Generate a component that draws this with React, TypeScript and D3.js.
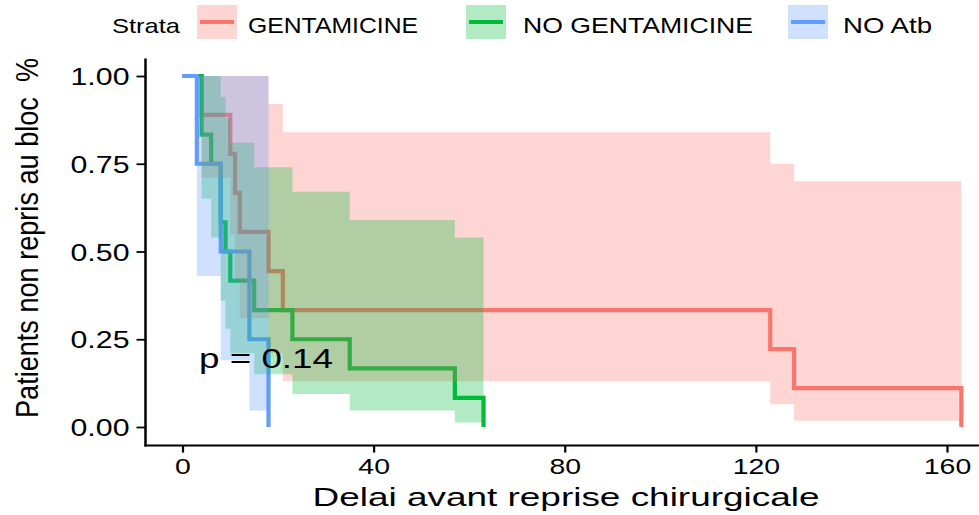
import * as d3 from "d3";
import React, { useRef, useEffect } from "react";

// survival curves (time of each drop, survival after it)
const gentaTimes = [4, 10, 11, 12, 18, 21, 123, 128, 163];
const gentaSurv = [0.889, 0.778, 0.667, 0.556, 0.444, 0.333, 0.222, 0.111, 0];
const gentaLower = [0.71, 0.55, 0.42, 0.31, 0.21, 0.13, 0.065, 0.018];
const gentaUpper = [1, 1, 1, 1, 0.92, 0.84, 0.75, 0.7];

const noGentaTimes = [4, 6, 8, 9, 10, 15, 23, 35, 57, 63];
const noGentaSurv = [0.833, 0.75, 0.583, 0.5, 0.417, 0.333, 0.25, 0.167, 0.083, 0];
const noGentaLower = [0.65, 0.54, 0.36, 0.28, 0.21, 0.15, 0.094, 0.047, 0.013];
const noGentaUpper = [1, 1, 0.94, 0.88, 0.81, 0.74, 0.67, 0.59, 0.54];

const noAtbTimes = [3, 8, 14, 18];
const noAtbSurv = [0.75, 0.5, 0.25, 0];
const noAtbLower = [0.43, 0.19, 0.046];
const noAtbUpper = [1, 1, 1];

const strata = ["GENTAMICINE", "NO GENTAMICINE", "NO Atb"];
const colors = ["#F8766D", "#00BA38", "#619CFF"];
const xTicks = [0, 40, 80, 120, 160];
const yTicks = [0, 0.25, 0.5, 0.75, 1];
const pValue = "p = 0.14";

const FONT = "'Liberation Sans', Arial, sans-serif";

const series = [
  { times: gentaTimes, surv: gentaSurv, lower: gentaLower, upper: gentaUpper },
  { times: noGentaTimes, surv: noGentaSurv, lower: noGentaLower, upper: noGentaUpper },
  { times: noAtbTimes, surv: noAtbSurv, lower: noAtbLower, upper: noAtbUpper },
];

const xScale = d3.scaleLinear().domain([0, 160]).range([182.5, 947]);
const yScale = d3.scaleLinear().domain([0, 1]).range([427, 76]);

const panelLeft = 145.5;
const panelBottom = yScale(-0.05) + 1;

const stepLine = d3
  .line<[number, number]>()
  .x(d => xScale(d[0]))
  .y(d => yScale(d[1]))
  .curve(d3.curveStepAfter);

const stepArea = d3
  .area<[number, number, number]>()
  .x(d => xScale(d[0]))
  .y0(d => yScale(d[1]))
  .y1(d => yScale(d[2]))
  .curve(d3.curveStepAfter);

function linePoints(s) {
  const pts: [number, number][] = [[0, 1]];
  s.times.forEach((t, i) => pts.push([t, s.surv[i]]));
  return pts;
}

function bandPoints(s) {
  const pts: [number, number, number][] = [[0, 1, 1]];
  s.lower.forEach((lo, i) => pts.push([s.times[i], lo, s.upper[i]]));
  const last = s.lower.length - 1;
  pts.push([s.times[s.times.length - 1], s.lower[last], s.upper[last]]);
  return pts;
}

// legend positions (x of key box, x of label, label width)
const legendKeys = [197, 466, 788];
const legendLabelX = [248, 523, 843];
const legendLabelW = [170, 230, 89];

const App = () => {
  const xRef = useRef(null);
  const yRef = useRef(null);

  useEffect(() => {
    const gx = d3.select(xRef.current);
    gx.attr("transform", `translate(0,${panelBottom})`)
      .call(d3.axisBottom(xScale).tickValues(xTicks).tickSize(7));
    gx.select(".domain").remove();
    gx.attr("font-family", FONT).attr("font-size", 22.5);
    gx.selectAll(".tick line").attr("stroke", "#000").attr("stroke-width", 2.2);
    gx.selectAll(".tick text")
      .attr("fill", "#000")
      .attr("y", 28.5)
      .attr("dy", 0)
      .attr("textLength", d => String(d).length * 15.8)
      .attr("lengthAdjust", "spacingAndGlyphs");

    const gy = d3.select(yRef.current);
    gy.attr("transform", `translate(${panelLeft},0)`)
      .call(d3.axisLeft(yScale).tickValues(yTicks).tickFormat(d3.format(".2f")).tickSize(9));
    gy.select(".domain").remove();
    gy.attr("font-family", FONT).attr("font-size", 24);
    gy.selectAll(".tick line").attr("stroke", "#000").attr("stroke-width", 1.8);
    gy.selectAll(".tick text")
      .attr("fill", "#000")
      .attr("x", -16)
      .attr("dy", 0)
      .attr("y", 8.5)
      .attr("textLength", 59)
      .attr("lengthAdjust", "spacingAndGlyphs");
  }, []);

  return (
    <svg
      width={979}
      height={515}
      style={{ position: "absolute", left: 0, top: 0, background: "#fff" }}
      fontFamily={FONT}
    >
      {/* legend */}
      <text x={112} y={33} fontSize={21} textLength={68} lengthAdjust="spacingAndGlyphs">
        Strata
      </text>
      {strata.map((name, i) => (
        <g key={name}>
          <rect x={legendKeys[i]} y={5} width={40} height={34} fill={colors[i]} fillOpacity={0.3} />
          <line
            x1={legendKeys[i] + 3}
            x2={legendKeys[i] + 37}
            y1={22}
            y2={22}
            stroke={colors[i]}
            strokeWidth={4}
          />
          <text
            x={legendLabelX[i]}
            y={33}
            fontSize={21.5}
            textLength={legendLabelW[i]}
            lengthAdjust="spacingAndGlyphs"
          >
            {name}
          </text>
        </g>
      ))}

      {/* survival steps, then confidence bands on top */}
      {series.map((s, i) => (
        <path key={"l" + i} d={stepLine(linePoints(s))} fill="none" stroke={colors[i]} strokeWidth={4.2} />
      ))}
      {series.map((s, i) => (
        <path key={"b" + i} d={stepArea(bandPoints(s))} fill={colors[i]} fillOpacity={0.3} stroke="none" />
      ))}

      <text x={199} y={368} fontSize={28} textLength={134} lengthAdjust="spacingAndGlyphs">
        {pValue}
      </text>

      {/* axes */}
      <line x1={panelLeft} x2={panelLeft} y1={yScale(1.05)} y2={panelBottom + 1} stroke="#000" strokeWidth={2.5} />
      <line x1={panelLeft - 1} x2={979} y1={panelBottom} y2={panelBottom} stroke="#000" strokeWidth={2} />
      <g ref={xRef} />
      <g ref={yRef} />

      <text
        x={566}
        y={506}
        fontSize={25}
        textAnchor="middle"
        textLength={507}
        lengthAdjust="spacingAndGlyphs"
      >
        Delai avant reprise chirurgicale
      </text>
      <text
        transform={`translate(38,238) rotate(-90) scale(1,1.3)`}
        fontSize={24}
        textAnchor="middle"
        textLength={360}
        lengthAdjust="spacingAndGlyphs"
        style={{ whiteSpace: "pre" }}
      >
        {"Patients non repris au bloc  %"}
      </text>
    </svg>
  );
};

export default App;
